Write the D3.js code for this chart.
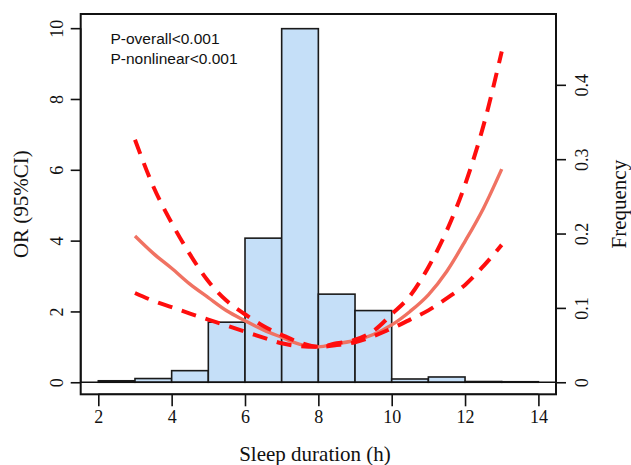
<!DOCTYPE html>
<html><head><meta charset="utf-8">
<script src="https://cdn.jsdelivr.net/npm/d3@7/dist/d3.min.js"></script>
<style>body{margin:0;background:#fff}svg{display:block}</style>
</head><body>
<script>
// ---- data ----
const binStarts = [2,3,4,5,6,7,8,9,10,11,12,13];
const binWidth = 1;
const frequency = [0.002,0.005,0.0156,0.0808,0.1938,0.4755,0.1185,0.0964,0.0044,0.0071,0.001,0.0007];
const sleepHours = [3,3.5,4,4.5,5,5.5,6,6.5,7,7.5,8,8.5,9,9.5,10,10.5,11,11.5,12,12.5,13];
const orEstimate = [4.13,3.64,3.22,2.77,2.39,2.02,1.74,1.48,1.27,1.07,1.0,1.09,1.18,1.35,1.62,2.0,2.47,3.13,3.98,4.91,6.02];
const orLower    = [2.52,2.3,2.12,1.94,1.77,1.6,1.43,1.26,1.1,1.02,1.0,1.05,1.13,1.3,1.52,1.77,2.03,2.37,2.75,3.28,3.88];
const orUpper    = [6.85,5.53,4.5,3.61,2.85,2.3,1.92,1.59,1.34,1.12,1.0,1.1,1.2,1.45,1.92,2.44,3.25,4.28,5.58,7.24,9.34];
const xTicks = [2,4,6,8,10,12,14];
const orTicks = [0,2,4,6,8,10];
const freqTicks = [0,0.1,0.2,0.3,0.4];
const pTexts = ["P-overall<0.001","P-nonlinear<0.001"];

const W = 631, H = 465;
const L = 80.7, R = 556, T = 14, B = 394.3;
const svg = d3.select("body").append("svg").attr("width",W).attr("height",H);

const x = d3.scaleLinear().domain([1.52,14.48]).range([L,R]);
const y = d3.scaleLinear().domain([-0.34,10.4]).range([B,T]);
const yF = d3.scaleLinear().domain([-0.34/21,10.4/21]).range([B,T]);

// histogram bars
svg.append("g").selectAll("rect").data(binStarts).join("rect")
  .attr("x", (d)=>x(d))
  .attr("width", (d)=>x(d+binWidth)-x(d))
  .attr("y", (d,i)=>yF(frequency[i]))
  .attr("height", (d,i)=>yF(0)-yF(frequency[i]))
  .attr("fill","#c5dff8").attr("stroke","#1a1a1a").attr("stroke-width",1.6);

// baseline
svg.append("line").attr("x1",L).attr("x2",R).attr("y1",y(0)).attr("y2",y(0))
  .attr("stroke","#111").attr("stroke-width",1.6);

// curves
const mk = (arr)=> d3.line().x((d,i)=>x(sleepHours[i])).y((d,i)=>y(arr[i])).curve(d3.curveMonotoneX)(arr);
svg.append("path").attr("d",mk(orEstimate)).attr("fill","none")
  .attr("stroke","#f07262").attr("stroke-width",3.4);
[orLower, orUpper].forEach(arr=>{
  svg.append("path").attr("d",mk(arr)).attr("fill","none")
    .attr("stroke","#ff0d0d").attr("stroke-width",4).attr("stroke-dasharray","15 10");
});

// box
svg.append("rect").attr("x",L).attr("y",T).attr("width",R-L).attr("height",B-T)
  .attr("fill","none").attr("stroke","#111").attr("stroke-width",2);

const tickFont = "'Liberation Serif','Times New Roman',serif";

// bottom axis
const gx = svg.append("g").attr("transform",`translate(0,${B})`)
  .call(d3.axisBottom(x).tickValues(xTicks).tickSize(12).tickSizeOuter(0).tickPadding(4));
gx.select(".domain").attr("d",`M${x(2)},0H${x(14)}`).attr("stroke","#111").attr("stroke-width",1.6);
gx.selectAll(".tick line").attr("stroke","#111").attr("stroke-width",1.6);
gx.selectAll(".tick text").attr("font-family",tickFont).attr("font-size",18).attr("fill","#111");

// left axis
const gl = svg.append("g").attr("transform",`translate(${L},0)`)
  .call(d3.axisLeft(y).tickValues(orTicks).tickSize(10).tickSizeOuter(0).tickFormat(d3.format("d")));
gl.select(".domain").attr("d",`M0,${y(0)}V${y(10)}`).attr("stroke","#111").attr("stroke-width",1.6);
gl.selectAll(".tick line").attr("stroke","#111").attr("stroke-width",1.6);
gl.selectAll(".tick text").attr("font-family",tickFont).attr("font-size",18).attr("fill","#111")
  .attr("x",null).attr("dy",null).attr("text-anchor","middle")
  .attr("transform","translate(-18,0) rotate(-90)");

// right axis
const gr = svg.append("g").attr("transform",`translate(${R},0)`)
  .call(d3.axisRight(yF).tickValues(freqTicks).tickSize(10).tickSizeOuter(0).tickFormat(d=>d===0?"0":d3.format(".1f")(d)));
gr.select(".domain").attr("d",`M0,${yF(0)}V${yF(0.4)}`).attr("stroke","#111").attr("stroke-width",1.6);
gr.selectAll(".tick line").attr("stroke","#111").attr("stroke-width",1.6);
gr.selectAll(".tick text").attr("font-family",tickFont).attr("font-size",18).attr("fill","#111")
  .attr("x",null).attr("dy",null).attr("text-anchor","middle")
  .attr("transform","translate(32,0) rotate(-90)");

// axis titles
svg.append("text").attr("x",315).attr("y",461).attr("text-anchor","middle")
  .attr("font-family",tickFont).attr("font-size",21).attr("fill","#111").text("Sleep duration (h)");
svg.append("text").attr("transform",`translate(28,${(T+B)/2}) rotate(-90)`).attr("text-anchor","middle")
  .attr("font-family",tickFont).attr("font-size",21).attr("fill","#111").text("OR (95%CI)");
svg.append("text").attr("transform",`translate(626,${(T+B)/2}) rotate(-90)`).attr("text-anchor","middle")
  .attr("font-family",tickFont).attr("font-size",21).attr("fill","#111").text("Frequency");

// p-values
svg.append("g").selectAll("text").data(pTexts).join("text")
  .attr("x",110.5).attr("y",(d,i)=>44+i*19.5)
  .attr("font-family","'Liberation Sans',Arial,sans-serif").attr("font-size",15.5).attr("fill","#111")
  .text(d=>d);
</script>
</body></html>
